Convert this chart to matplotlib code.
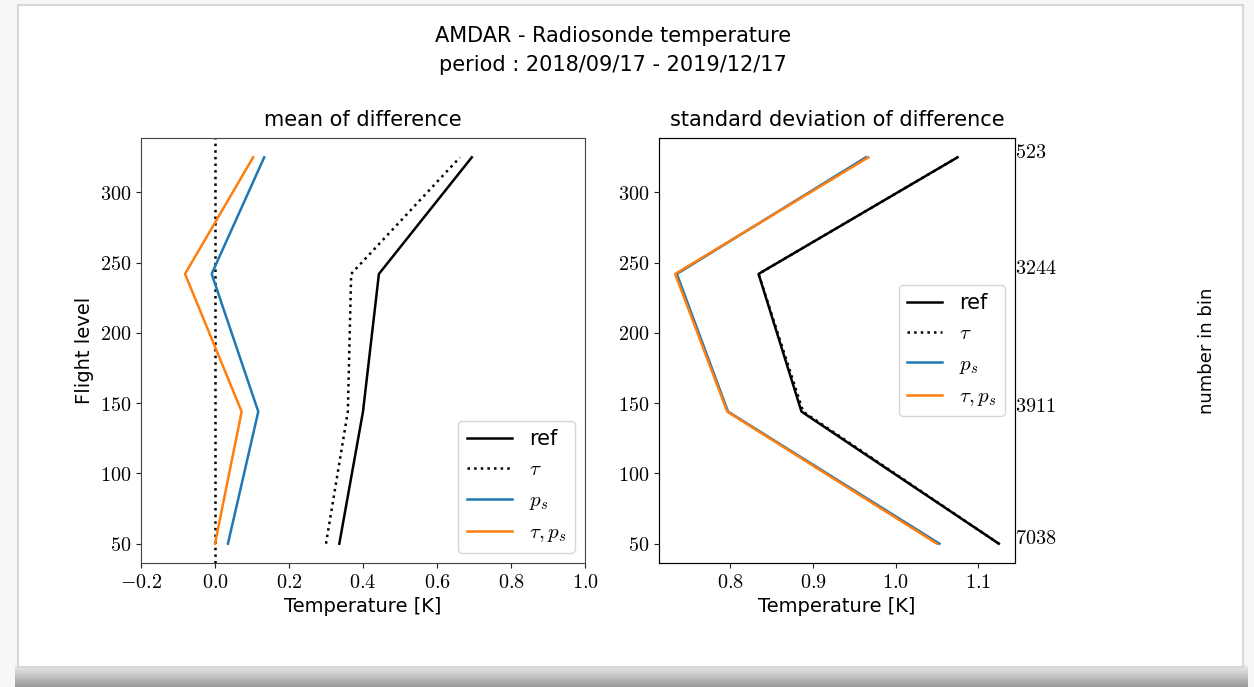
import numpy as np
import matplotlib
matplotlib.use('Agg')
import matplotlib.pyplot as plt
from matplotlib.patches import Rectangle
from matplotlib.ticker import FuncFormatter
from matplotlib.transforms import ScaledTranslation

plt.rcParams['mathtext.fontset'] = 'cm'
plt.rcParams['font.family'] = 'DejaVu Sans'

# flight level bins and counts
levels = [50, 144, 242, 325]
counts = ['7038', '3911', '3244', '523']

# mean of difference [K]
mean_ref = [0.336, 0.400, 0.443, 0.694]
mean_tau = [0.300, 0.359, 0.368, 0.662]
mean_ps = [0.035, 0.117, -0.009, 0.133]
mean_taups = [0.000, 0.072, -0.081, 0.103]

# standard deviation of difference [K]
std_ref = [1.125, 0.886, 0.834, 1.075]
std_tau = [1.125, 0.888, 0.834, 1.075]
std_ps = [1.053, 0.797, 0.735, 0.964]
std_taups = [1.050, 0.796, 0.733, 0.967]

labels = ['ref', r'$\tau$', r'$p_s$', r'$\tau, p_s$']
styles = [('k', '-'), ('k', ':'), ('#1f77b4', '-'), ('#ff7f0e', '-')]

W, H = 1254, 687
fig = plt.figure(figsize=(W/100, H/100), dpi=100)
fig.patch.set_facecolor('#f7f7f7')

# card + shadow
grad = fig.add_axes([0.012, 0, 0.983, 22/H], zorder=-5)
grad.imshow(np.linspace(0.93, 0.6, 50).reshape(-1, 1), cmap='gray', vmin=0, vmax=1,
            aspect='auto', extent=[0, 1, 0, 1], origin='upper')
grad.axis('off')
fig.patches.append(Rectangle((18/W, 20/H), 1225/W, 662/H, transform=fig.transFigure,
                             facecolor='white', edgecolor='#d8d8d8', lw=1.5, zorder=-4))

mathfmt = FuncFormatter(lambda v, p: '$%.1f$' % v)

ax1 = fig.add_axes([141/W, (H-563)/H, 444/W, 425/H])
ax2 = fig.add_axes([659/W, (H-563)/H, 356/W, 425/H])

ax1.axvline(0, color='k', ls=':', lw=1.8)
for data, (c, ls), lab in zip([mean_ref, mean_tau, mean_ps, mean_taups], styles, labels):
    ax1.plot(data, levels, color=c, ls=ls, lw=1.8, label=lab)
for data, (c, ls), lab in zip([std_ref, std_tau, std_ps, std_taups], styles, labels):
    ax2.plot(data, levels, color=c, ls=ls, lw=1.8, label=lab)

ax1.set_xlim(-0.2, 1.0)
ax1.set_xticks(np.arange(-0.2, 1.01, 0.2))
ax2.set_xticks([0.8, 0.9, 1.0, 1.1])
ax2.set_ylim(ax1.get_ylim())

for ax in (ax1, ax2):
    ax.xaxis.set_major_formatter(mathfmt)
    ax.yaxis.set_major_formatter(FuncFormatter(lambda v, p: '$%d$' % v))
    ax.tick_params(labelsize=14.5, colors='#222222', labelcolor='k')
    for s in ax.spines.values():
        s.set_color('#444444')
    ax.set_xlabel('Temperature [K]', fontsize=14)

ax1.set_ylabel('Flight level', fontsize=14)
ax1.set_title('mean of difference', fontsize=15, pad=9)
ax2.set_title('standard deviation of difference', fontsize=15, pad=9)

ax1.legend(loc='lower right', fontsize=15, handlelength=2.2, borderaxespad=0.5)
ax2.legend(loc='center right', fontsize=15, handlelength=1.7, borderaxespad=0.5)

tw = ax2.twinx()
tw.set_ylim(ax2.get_ylim())
tw.set_yticks(levels)
tw.set_yticklabels(['$%s$' % c for c in counts])
tw.tick_params(length=0, pad=0, labelsize=14.5)
for lab in tw.get_yticklabels():
    lab.set_transform(lab.get_transform() + ScaledTranslation(0, 5/72, fig.dpi_scale_trans))
tw.set_ylabel('number in bin', fontsize=13, labelpad=102)

fig.text(613/W, 1 - 36/H, 'AMDAR - Radiosonde temperature', ha='center', va='center', fontsize=15)
fig.text(613/W, 1 - 65/H, 'period : 2018/09/17 - 2019/12/17', ha='center', va='center', fontsize=15)

fig.savefig('out.png', dpi=100, facecolor=fig.get_facecolor())
